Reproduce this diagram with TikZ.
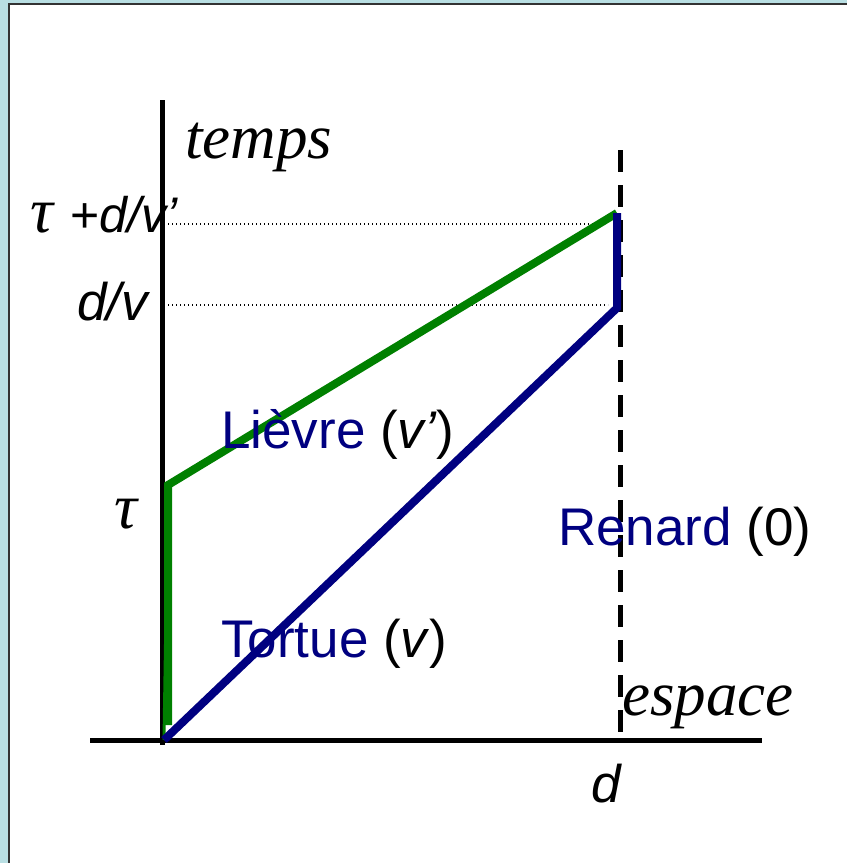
\documentclass[tikz,border=0pt]{standalone}
\usepackage{fontspec}
\setmainfont{Liberation Serif}
\setsansfont{Liberation Sans}
\begin{document}
\begin{tikzpicture}[
  x=1pt, y=-1pt,
  axis/.style={draw=black, line width=5pt},
  world/.style={line width=8pt, line join=miter},
  guide/.style={draw=black, line width=1.3pt, dash pattern=on 1.3pt off 2.7pt},
  big/.style={font=\fontsize{53}{60}\selectfont\sffamily, inner sep=0pt, anchor=base west},
  ital/.style={font=\fontsize{63}{72}\selectfont\itshape, inner sep=0pt, anchor=base west},
]
\definecolor{Bg}{HTML}{B9DFE3}
\definecolor{Frame}{HTML}{333333}
\definecolor{Hare}{HTML}{008000}
\definecolor{Tort}{HTML}{000080}

% ---- frame ----
\useasboundingbox (0,0) rectangle (847,863);
\fill[Bg] (0,0) rectangle (847,863);
\fill[white] (9,4) rectangle (847,863);
\draw[Frame, line width=1.5pt] (9,863) -- (9,4) -- (847,4);

% ---- points ----
\coordinate (O)    at (164,740);
\coordinate (Tau)  at (168,485);
\coordinate (TauB) at (168,725);
\coordinate (A)    at (617,213);
\coordinate (B)    at (617,308);
\coordinate (Yt)   at (162,100);
\coordinate (Yb)   at (162,745);
\coordinate (Xl)   at (90,740);
\coordinate (Xr)   at (762,740);
\coordinate (Rt)   at (620,150);
\coordinate (Rb)   at (620,740);
\coordinate (Ga)   at (168,224);
\coordinate (Gb)   at (168,305);
\coordinate (Ha)   at (606,224);
\coordinate (Hb)   at (608,305);

% ---- axes ----
\draw[axis] (Yt) -- (Yb);
\draw[axis] (Xl) -- (Xr);
\draw[black, line width=5pt, dash pattern=on 22pt off 13pt] (Rt) -- (Rb);
\draw[guide] (Ga) -- (Ha);
\draw[guide] (Gb) -- (Hb);

% ---- world lines ----
\draw[Hare, line width=3pt] (O) -- (Tau);
\draw[world, Hare] (TauB) -- (Tau) -- (A);
\draw[world, Tort] (O) -- (B) -- (A);

% ---- labels ----
\node[ital, font=\fontsize{64}{70}\selectfont\itshape] (tdvtau) at (30,232) {τ};
\node[big, font=\fontsize{50}{56}\selectfont\sffamily] (tdv) at (70,232) {+\textit{d/v’}};
\node[ital] (temps) at (185,158) {temps};
\node[ital] (espace) at (622,715) {espace};
\node[big] (dv) at (77,320) {\textit{d/v}};
\node[ital, font=\fontsize{64}{70}\selectfont\itshape] (tau) at (114,528) {τ};
\node[big] (hare) at (221,448) {\textcolor{Tort}{Lièvre} (\textit{v’})};
\node[big] (tortue) at (221,657) {\textcolor{Tort}{Tortue} (\textit{v})};
\node[big] (renard) at (558,545) {\textcolor{Tort}{Renard} (0)};
\node[big] (d) at (591,802) {\textit{d}};
\end{tikzpicture}
\end{document}
